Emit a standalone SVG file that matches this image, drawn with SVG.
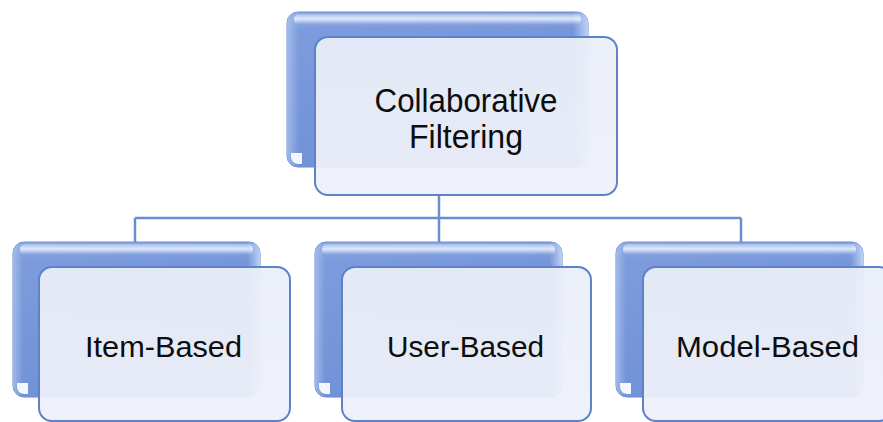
<svg xmlns="http://www.w3.org/2000/svg" width="883" height="422" viewBox="0 0 883 422">
  <defs>
    <linearGradient id="backFill" x1="0" y1="0" x2="0" y2="1">
      <stop offset="0" stop-color="#86a4e0"/>
      <stop offset="0.12" stop-color="#7796da"/>
      <stop offset="1" stop-color="#6b8cd4"/>
    </linearGradient>
    <linearGradient id="sideShine" x1="0" y1="0" x2="1" y2="0">
      <stop offset="0" stop-color="#b4cbf3" stop-opacity="0.7"/>
      <stop offset="0.04" stop-color="#b4cbf3" stop-opacity="0.1"/>
      <stop offset="0.95" stop-color="#c9dbf8" stop-opacity="0"/>
      <stop offset="1" stop-color="#cfe0fa" stop-opacity="0.8"/>
    </linearGradient>
    <linearGradient id="topShine" x1="0" y1="0" x2="0" y2="1">
      <stop offset="0" stop-color="#ffffff" stop-opacity="0.25"/>
      <stop offset="0.45" stop-color="#eef5ff" stop-opacity="0.85"/>
      <stop offset="1" stop-color="#dbe8fb" stop-opacity="0"/>
    </linearGradient>
    <linearGradient id="frontFill" x1="0" y1="0" x2="0" y2="1">
      <stop offset="0" stop-color="#eaeef8"/>
      <stop offset="1" stop-color="#eef1f9"/>
    </linearGradient>
  </defs>
  <style>
    .back { fill: url(#backFill); stroke: #6688d0; stroke-width: 1; }
    .side { fill: url(#sideShine); }
    .shine { fill: url(#topShine); }
    .corner { fill: #f4f7fd; }
    .front { fill: url(#frontFill); fill-opacity: 0.94; stroke: #5d82ca; stroke-width: 2; }
    .label { font-family: "Liberation Sans", Arial, sans-serif; fill: #0d0d0d; }
    .conn { fill: none; stroke: #6a8cd2; stroke-width: 2.5; }
  </style>

  <rect width="883" height="422" fill="#ffffff"/>

  <!-- tree connectors -->
  <g id="connectors">
    <path class="conn" d="M439 195 V218"/>
    <path class="conn" d="M135 218 H741"/>
    <path class="conn" d="M135 218 V242"/>
    <path class="conn" d="M439 218 V242"/>
    <path class="conn" d="M741 218 V242"/>
  </g>

  <!-- root -->
  <g id="collaborative-filtering">
    <rect class="back" x="287" y="12" width="301" height="155" rx="11"/>
    <rect class="side" x="287" y="12" width="301" height="155" rx="11"/>
    <rect class="shine" x="294" y="14" width="287" height="11" rx="5"/>
    <path class="corner" d="M291 153 H302 V164 H298 Q291 163 291 156 Z"/>
    <rect class="front" x="315" y="37" width="302" height="158" rx="13"/>
    <text class="label" x="466" y="112" font-size="34" text-anchor="middle" textLength="183" lengthAdjust="spacingAndGlyphs">Collaborative</text>
    <text class="label" x="466" y="148" font-size="34" text-anchor="middle" textLength="114" lengthAdjust="spacingAndGlyphs">Filtering</text>
  </g>

  <!-- children -->
  <g id="item-based">
    <rect class="back" x="13" y="242" width="247" height="155" rx="11"/>
    <rect class="side" x="13" y="242" width="247" height="155" rx="11"/>
    <rect class="shine" x="20" y="244" width="233" height="11" rx="5"/>
    <path class="corner" d="M17 383 H28 V394 H24 Q17 393 17 386 Z"/>
    <rect class="front" x="39" y="267" width="251" height="154" rx="13"/>
    <text class="label" x="163.5" y="357" font-size="30" text-anchor="middle" textLength="157" lengthAdjust="spacingAndGlyphs">Item-Based</text>
  </g>

  <g id="user-based">
    <rect class="back" x="315" y="242" width="247" height="155" rx="11"/>
    <rect class="side" x="315" y="242" width="247" height="155" rx="11"/>
    <rect class="shine" x="322" y="244" width="233" height="11" rx="5"/>
    <path class="corner" d="M319 383 H330 V394 H326 Q319 393 319 386 Z"/>
    <rect class="front" x="342" y="267" width="249" height="154" rx="13"/>
    <text class="label" x="465.5" y="357" font-size="30" text-anchor="middle" textLength="157" lengthAdjust="spacingAndGlyphs">User-Based</text>
  </g>

  <g id="model-based">
    <rect class="back" x="616" y="242" width="247" height="155" rx="11"/>
    <rect class="side" x="616" y="242" width="247" height="155" rx="11"/>
    <rect class="shine" x="623" y="244" width="233" height="11" rx="5"/>
    <path class="corner" d="M620 383 H631 V394 H627 Q620 393 620 386 Z"/>
    <rect class="front" x="643" y="267" width="249" height="154" rx="13"/>
    <text class="label" x="767.5" y="357" font-size="30" text-anchor="middle" textLength="183" lengthAdjust="spacingAndGlyphs">Model-Based</text>
  </g>
</svg>
